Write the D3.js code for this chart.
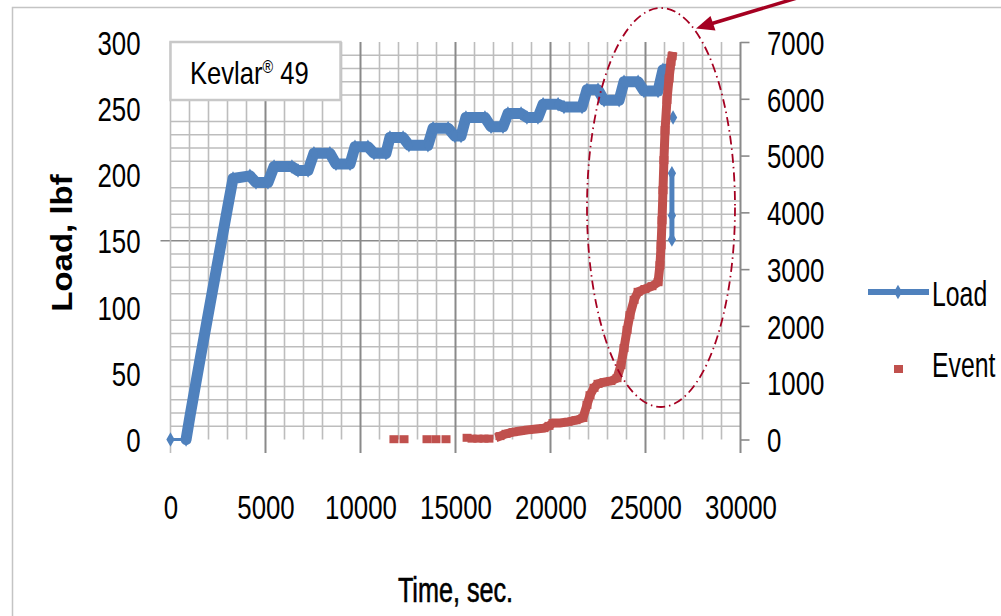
<!DOCTYPE html>
<html>
<head>
<meta charset="utf-8">
<script src="https://cdn.jsdelivr.net/npm/d3@7"></script>
<style>
  html, body { margin: 0; padding: 0; background: #fff; }
  svg { display: block; font-family: "Liberation Sans", Arial, sans-serif; }
</style>
</head>
<body>
<div id="chart"></div>
<script>
'use strict'

// Load (lbf) against time (s); null breaks the line after failure
const loadTime = [0, 820, 1030, 1550, 2080, 2600, 3030, 3290, 4180, 4500, 5130, 5450, 6390, 6710,
  7240, 7550, 8390, 8710, 9450, 9710, 10390, 10710, 11340, 11550, 12240, 12550, 13550, 13820,
  14610, 14970, 15290, 15550, 16550, 16870, 17500, 17760, 18450, 18760, 19340, 19610, 20400,
  20710, 21660, 21920, 22500, 22820, 23610, 23870, 24610, 24920, 25660, 25920, 26240,
  null, 26450, null, 26390, 26390, 26390]
const loadLbf = [0, 0, 18, 60, 102, 143, 177, 197, 199, 194, 194, 206, 206, 203,
  203, 216, 216, 208, 208, 221, 221, 216, 216, 228, 228, 222, 222, 235,
  235, 229, 229, 243, 243, 236, 236, 246, 246, 243, 243, 253, 253,
  251, 251, 264, 264, 256, 256, 270, 270, 263, 263, 279, 280,
  null, 243, null, 201, 169, 151]

// Acoustic emission events (cumulative count) against time (s)
const eventTime = [11760, 12290, 13500, 13970, 14500, 15610, 15870, 16180, 16500, 16760,
  17340, 17660, 18030, 18400, 18820, 19240, 19660, 19920, 20130, 20500, 20920, 21340, 21710,
  21920, 22080, 22290, 22500, 22820, 23180, 23500, 23710, 23870, 24030, 24180, 24400, 24610,
  24970, 25340, 25660, 25760, 25820, 25870, 25920, 25970, 26030, 26130, 26240, 26340, 26400]
const eventCount = [5, 5, 5, 5, 5, 30, 15, 15, 15, 15,
  60, 100, 130, 150, 170, 185, 200, 240, 290, 290, 310, 340, 380,
  610, 780, 910, 980, 1010, 1030, 1080, 1310, 1610, 1930, 2190, 2460, 2600,
  2650, 2700, 2770, 3070, 3420, 3860, 4390, 4920, 5450, 5980, 6360, 6650, 6750]

const timeTicks = [0, 5000, 10000, 15000, 20000, 25000, 30000]
const loadTicks = [0, 50, 100, 150, 200, 250, 300]
const eventTicks = [0, 1000, 2000, 3000, 4000, 5000, 6000, 7000]
const seriesNames = ['Load', 'Event']

const blue = '#4F81BD'
const red = '#C0504D'
const mark = '#A50021'
const gridLight = '#BDBDBD'
const gridDark = '#8A8A8A'
const fontK = 0.76

const svg = d3.select('#chart').append('svg')
  .attr('width', 1001)
  .attr('height', 616)

// chart frame
svg.append('rect')
  .attr('x', 12.5).attr('y', 7.5).attr('width', 1000).attr('height', 620)
  .attr('fill', '#fff').attr('stroke', '#C4C4C4').attr('stroke-width', 1.5)

const x = d3.scaleLinear().domain([0, 30000]).range([170.5, 740.5])
const yLoad = d3.scaleLinear().domain([0, 300]).range([439.5, 42])
const yEvent = d3.scaleLinear().domain([0, 7000]).range([439.5, 42])
const tickBottom = 453

// grid
const grid = svg.append('g')
grid.selectAll('line.h')
  .data(d3.range(10, 300, 10).filter(v => v % 50 !== 0))
  .enter().append('line')
  .attr('x1', x(0)).attr('x2', x(30000))
  .attr('y1', d => yLoad(d)).attr('y2', d => yLoad(d))
  .attr('stroke', gridLight).attr('stroke-width', 1.7)
grid.append('line')
  .attr('x1', x(0) - 10).attr('x2', x(30000))
  .attr('y1', yLoad(150)).attr('y2', yLoad(150))
  .attr('stroke', gridDark).attr('stroke-width', 1.7)

const vLines = d3.range(0, 30001, 1000)
grid.selectAll('line.v')
  .data(vLines)
  .enter().append('line')
  .attr('x1', d => x(d)).attr('x2', d => x(d))
  .attr('y1', yLoad(300))
  .attr('y2', d => d % 5000 === 0 ? tickBottom : yLoad(0))
  .attr('stroke', d => (d % 5000 === 0 && d > 0) ? gridDark : gridLight)
  .attr('stroke-width', d => (d % 5000 === 0 && d > 0) ? 2 : 1.6)

// axes
function styleText (g, dx, anchor) {
  g.select('.domain').remove()
  g.selectAll('text')
    .attr('x', 0).attr('y', 0).attr('dy', '0.36em')
    .attr('fill', '#000')
    .attr('font-size', 34)
    .attr('text-anchor', anchor)
    .attr('transform', `translate(${dx},0) scale(${fontK},1)`)
}

svg.append('g')
  .attr('transform', `translate(${x(0)},0)`)
  .call(d3.axisLeft(yLoad).tickValues(loadTicks).tickSize(0))
  .call(g => styleText(g, -30, 'end'))
  .call(g => g.selectAll('line').remove())

svg.append('g')
  .attr('transform', `translate(${x(30000)},0)`)
  .call(d3.axisRight(yEvent).tickValues(eventTicks).tickSize(9).tickFormat(d3.format('d')))
  .call(g => styleText(g, 26.5, 'start'))
  .call(g => g.selectAll('.tick line').attr('stroke', gridDark).attr('stroke-width', 1.6))

svg.append('g')
  .attr('transform', 'translate(0,506.5)')
  .call(d3.axisBottom(x).tickValues(timeTicks).tickSize(0).tickFormat(d3.format('d')))
  .call(g => styleText(g, 0, 'middle'))
  .call(g => g.selectAll('line').remove())

// Kevlar label box
const box = svg.append('g')
box.append('rect')
  .attr('x', 170.5).attr('y', 42).attr('width', 170).attr('height', 58)
  .attr('fill', '#fff').attr('stroke', '#C8C8C8').attr('stroke-width', 2.5)
const kev = box.append('text')
  .attr('transform', `translate(190,83.5) scale(0.8,1)`)
  .attr('font-size', 32)
kev.append('tspan').text('Kevlar')
kev.append('tspan').attr('dy', -11).attr('font-size', 18).text('®')
kev.append('tspan').attr('dy', 11).text(' 49')

// Load series
const loadPts = loadTime.map((t, i) => ({ t, v: loadLbf[i] }))
const segs = []
let cur = []
loadPts.forEach(d => {
  if (d.v === null) { if (cur.length) segs.push(cur); cur = [] } else cur.push(d)
})
if (cur.length) segs.push(cur)

const lineLoad = d3.line().x(d => x(d.t)).y(d => yLoad(d.v))
const loadG = svg.append('g')
loadG.append('path')
  .attr('d', lineLoad(segs[0]))
  .attr('fill', 'none').attr('stroke', blue).attr('stroke-width', 3)
loadG.append('path')
  .attr('d', lineLoad(segs[0].slice(1)))
  .attr('fill', 'none').attr('stroke', blue).attr('stroke-width', 11)
  .attr('stroke-linejoin', 'round').attr('stroke-linecap', 'round')
segs.slice(2).forEach(s => {
  loadG.append('path')
    .attr('d', lineLoad(s))
    .attr('fill', 'none').attr('stroke', blue).attr('stroke-width', 5)
})
const diamond = d3.symbol().type(d3.symbolDiamond).size(60)
loadG.selectAll('path.pt')
  .data(loadPts.filter(d => d.v !== null))
  .enter().append('path')
  .attr('class', 'pt')
  .attr('d', diamond)
  .attr('transform', d => `translate(${x(d.t)},${yLoad(d.v)})`)
  .attr('fill', blue)

// Event series
const eventPts = eventTime.map((t, i) => ({ t, v: eventCount[i] }))
const dense = eventPts.filter(d => d.t > 17000)
const evG = svg.append('g')
evG.append('path')
  .attr('d', d3.line().x(d => x(d.t)).y(d => yEvent(d.v))(dense))
  .attr('fill', 'none').attr('stroke', red).attr('stroke-width', 9)
  .attr('stroke-linecap', 'square')
evG.selectAll('rect')
  .data(eventPts)
  .enter().append('rect')
  .attr('x', d => x(d.t) - 4.5).attr('y', d => yEvent(d.v) - 4)
  .attr('width', 9).attr('height', 8)
  .attr('fill', red)

// annotation: ellipse and arrow
svg.append('ellipse')
  .attr('cx', 661).attr('cy', 207.5).attr('rx', 74).attr('ry', 199.5)
  .attr('fill', 'none').attr('stroke', mark).attr('stroke-width', 1.8)
  .attr('stroke-dasharray', '9,4,1.5,4')
svg.append('line')
  .attr('x1', 797).attr('y1', -2).attr('x2', 712).attr('y2', 23.5)
  .attr('stroke', mark).attr('stroke-width', 3.5)
svg.append('path')
  .attr('d', 'M696,28.5 L715.5,30.5 L710.5,16 Z')
  .attr('fill', mark)

// axis titles
svg.append('text')
  .attr('transform', `translate(72,243) scale(0.9,1) rotate(-90)`)
  .attr('text-anchor', 'middle')
  .attr('font-size', 33).attr('font-weight', 'bold')
  .text('Load, lbf')
svg.append('text')
  .attr('transform', `translate(455.5,601.5) scale(0.72,1)`)
  .attr('text-anchor', 'middle')
  .attr('font-size', 35)
  .attr('stroke', '#000').attr('stroke-width', 0.6)
  .text('Time, sec.')

// legend
const leg = svg.append('g')
leg.append('line')
  .attr('x1', 868).attr('x2', 929).attr('y1', 292).attr('y2', 292)
  .attr('stroke', blue).attr('stroke-width', 6)
leg.append('path').attr('d', diamond).attr('transform', 'translate(898,292)').attr('fill', blue)
leg.append('rect').attr('x', 894).attr('y', 365).attr('width', 9).attr('height', 8).attr('fill', red)
leg.selectAll('text')
  .data(seriesNames)
  .enter().append('text')
  .attr('transform', (d, i) => `translate(932,${i === 0 ? 306 : 377}) scale(0.69,1)`)
  .attr('font-size', 36)
  .text(d => d)
</script>
</body>
</html>
